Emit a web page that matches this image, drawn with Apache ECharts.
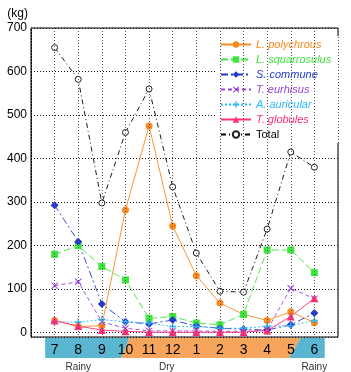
<!DOCTYPE html>
<html>
<head>
<meta charset="utf-8">
<script src="https://cdn.jsdelivr.net/npm/echarts@6/dist/echarts.min.js"></script>
<style>
html, body { margin: 0; padding: 0; background: #fff; }
#chart { width: 351px; height: 372px; }
</style>
</head>
<body>
<div id="chart"></div>
<script>
// months, July to June
const months = ['7', '8', '9', '10', '11', '12', '1', '2', '3', '4', '5', '6']
const polychrous = [28, 14, 16, 282, 475, 245, 131, 68, 42, 28, 48, 23]
const squarrosulus = [180, 200, 152, 121, 33, 37, 22, 18, 42, 190, 190, 138]
const commune = [293, 209, 66, 25, 20, 29, 15, 10, 8, 6, 18, 45]
const eurhisus = [108, 117, 25, 10, 4, 4, 4, 3, 3, 6, 102, 78]
const auricular = [25, 24, 30, 25, 22, 14, 14, 10, 10, 15, 16, 28]
const globules = [28, 15, 6, 3, 1, 1, 1, 1, 1, 5, 37, 79]
const total = [655, 582, 298, 460, 560, 335, 183, 95, 93, 238, 415, 380]
const yTicks = [0, 100, 200, 300, 400, 500, 600, 700]

// empty slot at each end so the months sit one step in from the frame
const categories = [''].concat(months, [''])
const pad = arr => [null].concat(arr, [null])

const crossPath = 'path://M1,0L5,4L9,0L10,1L6,5L10,9L9,10L5,6L1,10L0,9L4,5L0,1Z'
const plusPath = 'path://M4,0H6V4H10V6H6V10H4V6H0V4H4Z'

const seriesDefs = [
  { name: 'L. polychrous', data: polychrous, color: '#f88a1e', symbol: 'circle', size: 7, type: 'solid', italic: true },
  { name: 'L. squarrosulus', data: squarrosulus, color: '#3ce63c', symbol: 'rect', size: 7, type: [7, 3], italic: true },
  { name: 'S. commune', data: commune, color: '#2438d0', symbol: 'diamond', size: 8, type: [7, 3, 2, 3], italic: true },
  { name: 'T. eurhisus', data: eurhisus, color: '#9a3fd9', symbol: crossPath, size: 7, type: [4, 3], italic: true },
  { name: 'A. auricular', data: auricular, color: '#2ab8ff', symbol: plusPath, size: 7, type: [2, 2], italic: true },
  { name: 'T. globules', data: globules, color: '#ff2f7a', symbol: 'triangle', size: 8, type: 'solid', italic: true },
  { name: 'Total', data: total, color: '#000', symbol: 'circle', size: 6, type: [5, 3, 1, 3], italic: false, hollow: true }
]

const myChart = echarts.init(document.getElementById('chart'))

const option = {
  animation: false,
  grid: {
    left: 31,
    right: 13,
    top: 28,
    bottom: 35,
    show: true,
    borderColor: '#000',
    borderWidth: 1
  },
  legend: {
    orient: 'vertical',
    left: 216,
    top: 36,
    itemWidth: 30,
    itemHeight: 8,
    itemGap: 4,
    padding: [3, 8, 3, 4],
    backgroundColor: '#fff',
    textStyle: { fontSize: 11, fontFamily: 'Liberation Sans' },
    data: seriesDefs.map(s => ({
      name: s.name,
      textStyle: { color: s.color, fontStyle: s.italic ? 'italic' : 'normal' }
    }))
  },
  xAxis: {
    type: 'category',
    boundaryGap: false,
    data: categories,
    z: 10,
    axisLine: { show: false },
    axisTick: { show: false },
    axisLabel: {
      interval: 0,
      margin: 6,
      fontSize: 14,
      color: '#000',
      fontFamily: 'Liberation Sans'
    },
    splitLine: {
      show: true,
      lineStyle: { color: '#555', type: [1, 2], width: 1 }
    }
  },
  yAxis: {
    type: 'value',
    min: -10,
    max: 700,
    splitNumber: 7,
    name: '(kg)',
    nameLocation: 'end',
    nameGap: 8,
    nameTextStyle: { align: 'right', padding: [0, 3, 0, 0], fontSize: 12, color: '#000', fontFamily: 'Liberation Sans' },
    axisLine: { show: true, lineStyle: { color: '#000' } },
    axisTick: { show: false },
    axisLabel: {
      fontSize: 12,
      color: '#000',
      margin: 4,
      fontFamily: 'Liberation Sans',
      formatter: v => (yTicks.indexOf(v) >= 0 ? String(v) : '')
    },
    splitLine: {
      show: true,
      lineStyle: { color: '#111', type: [1, 2], width: 1 }
    }
  },
  series: seriesDefs.map(s => ({
    name: s.name,
    type: 'line',
    data: pad(s.data),
    symbol: s.symbol,
    symbolSize: s.size,
    showSymbol: true,
    color: s.color,
    lineStyle: { color: s.color, width: 0.9, type: s.type },
    itemStyle: s.hollow
      ? { color: '#fff', borderColor: '#222', borderWidth: 1 }
      : { color: s.color }
  }))
}

myChart.setOption(option)

// season band under the axis, placed from the axis scale
const px = i => myChart.convertToPixel({ xAxisIndex: 0 }, i)
const yb = myChart.convertToPixel({ yAxisIndex: 0 }, -10)
const step = px(2) - px(1)
const bandTop = yb + 1
const bandBot = yb + 21
const bandLeft = px(1) - 0.4 * step
const bandRight = px(12) + 0.44 * step
const b1t = px(4) + 0.17 * step
const b1b = px(4) - 0.18 * step
const b2t = px(11) + 0.42 * step
const b2b = px(11) - 0.08 * step
const blue = '#5ab5d0'
const orange = '#f7a55c'
const noteStyle = { fill: '#333', fontSize: 10, align: 'center', verticalAlign: 'middle', fontFamily: 'Liberation Sans' }

myChart.setOption({
  graphic: [
    { type: 'polygon', z: 1, silent: true, shape: { points: [[bandLeft, bandTop], [b1t, bandTop], [b1b, bandBot], [bandLeft, bandBot]] }, style: { fill: blue } },
    { type: 'polygon', z: 1, silent: true, shape: { points: [[b1t, bandTop], [b2t, bandTop], [b2b, bandBot], [b1b, bandBot]] }, style: { fill: orange } },
    { type: 'polygon', z: 1, silent: true, shape: { points: [[b2t, bandTop], [bandRight, bandTop], [bandRight, bandBot], [b2b, bandBot]] }, style: { fill: blue } },
    { type: 'text', z: 1, silent: true, x: px(2), y: bandBot + 9, style: Object.assign({ text: 'Rainy' }, noteStyle) },
    { type: 'text', z: 1, silent: true, x: px(6) - 0.25 * step, y: bandBot + 9, style: Object.assign({ text: 'Dry' }, noteStyle) },
    { type: 'text', z: 1, silent: true, x: px(12), y: bandBot + 9, style: Object.assign({ text: 'Rainy' }, noteStyle) }
  ]
})
</script>
</body>
</html>
